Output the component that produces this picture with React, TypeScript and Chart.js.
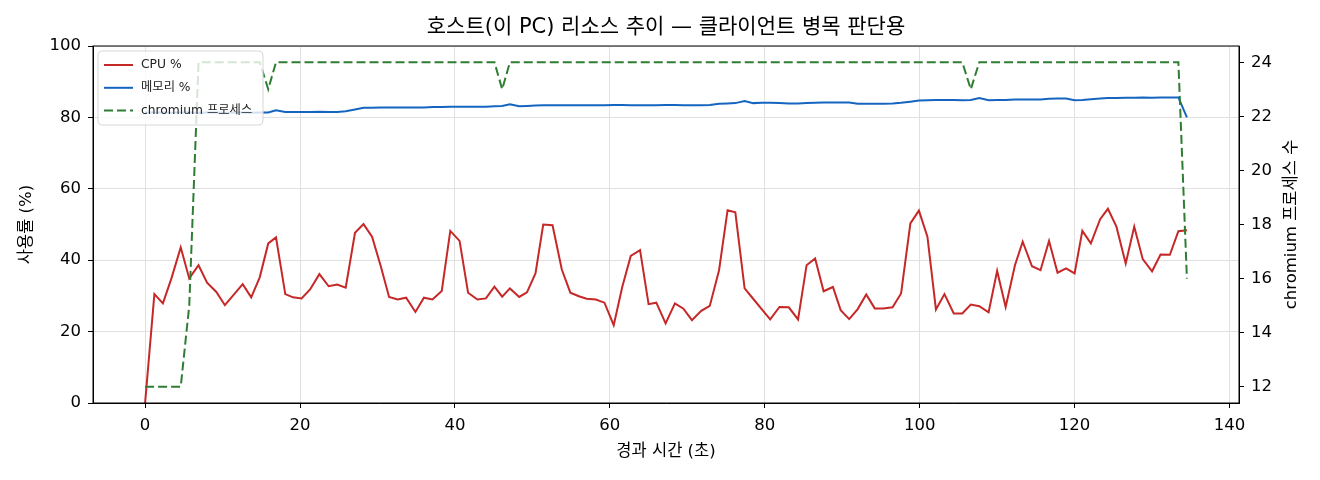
import { useEffect, useRef } from "react";
import { Chart, registerables } from "chart.js";

Chart.register(...registerables);

const FONT = '"DejaVu Sans", "Noto Sans CJK KR", sans-serif';

// sample times (s)
const TIME_S = [
  0.0, 1.2, 2.3, 3.4, 4.6, 5.7, 6.9, 8.0, 9.2, 10.3,
  11.4, 12.6, 13.7, 14.8, 15.9, 16.9, 18.1, 19.1, 20.2, 21.3,
  22.5, 23.7, 24.8, 25.9, 27.1, 28.2, 29.3, 30.4, 31.5, 32.6,
  33.7, 34.9, 36.0, 37.1, 38.3, 39.4, 40.6, 41.7, 42.9, 44.0,
  45.1, 46.1, 47.1, 48.3, 49.3, 50.4, 51.4, 52.6, 53.8, 54.9,
  56.0, 57.0, 58.2, 59.3, 60.5, 61.6, 62.7, 63.9, 65.0, 66.0,
  67.2, 68.4, 69.5, 70.6, 71.8, 72.9, 74.1, 75.2, 76.2, 77.4,
  78.5, 79.6, 80.7, 81.9, 83.1, 84.3, 85.4, 86.5, 87.6, 88.8,
  89.8, 90.9, 92.0, 93.1, 94.2, 95.3, 96.5, 97.6, 98.8, 99.9,
  101.0, 102.1, 103.2, 104.4, 105.5, 106.6, 107.7, 108.9, 110.0, 111.1,
  112.3, 113.3, 114.5, 115.6, 116.7, 117.8, 118.9, 120.0, 121.0, 122.1,
  123.3, 124.3, 125.4, 126.6, 127.7, 128.8, 130.0, 131.1, 132.3, 133.4,
  134.5,
];

const CPU_PCT = [
  0, 30.5, 27.9, 34.9, 43.6, 34.9, 38.6, 33.7, 31.1, 27.4,
  30.2, 33.3, 29.6, 35.2, 44.7, 46.4, 30.5, 29.6, 29.3, 31.8,
  36.1, 32.7, 33.2, 32.3, 47.7, 50.1, 46.6, 38.5, 29.7, 29.0,
  29.5, 25.5, 29.5, 29.0, 31.4, 48.2, 45.4, 30.9, 29.0, 29.3,
  32.6, 29.8, 32.1, 29.7, 31.0, 36.3, 50.0, 49.8, 37.4, 30.9,
  29.9, 29.2, 29.0, 28.1, 21.8, 32.5, 41.2, 42.8, 27.7, 28.1,
  22.3, 27.9, 26.4, 23.2, 25.8, 27.2, 37.2, 54.0, 53.4, 32.1,
  29.2, 26.3, 23.4, 26.9, 26.8, 23.4, 38.6, 40.5, 31.3, 32.5,
  26.0, 23.5, 26.3, 30.4, 26.5, 26.5, 26.8, 30.7, 50.3, 53.9,
  46.6, 26.2, 30.5, 25.1, 25.1, 27.6, 27.1, 25.4, 37.0, 26.9,
  38.6, 45.2, 38.3, 37.2, 45.4, 36.5, 37.7, 36.3, 48.2, 44.7,
  51.5, 54.4, 49.4, 39.1, 49.4, 40.3, 36.9, 41.6, 41.5, 48.1,
  48.4,
];

const MEM_PCT = [
  81.4, 81.4, 81.4, 81.3, 81.4, 81.4, 81.3, 81.4, 81.4, 81.3,
  81.4, 81.4, 81.3, 81.4, 81.4, 82.0, 81.5, 81.5, 81.5, 81.5,
  81.6, 81.5, 81.5, 81.7, 82.2, 82.7, 82.7, 82.8, 82.8, 82.8,
  82.8, 82.8, 82.8, 82.9, 82.9, 83.0, 83.0, 83.0, 83.0, 83.0,
  83.1, 83.2, 83.7, 83.1, 83.2, 83.3, 83.4, 83.4, 83.4, 83.4,
  83.4, 83.4, 83.4, 83.4, 83.5, 83.5, 83.4, 83.4, 83.4, 83.4,
  83.5, 83.5, 83.4, 83.4, 83.4, 83.5, 83.8, 83.9, 84.0, 84.6,
  84.0, 84.1, 84.1, 84.0, 83.9, 83.9, 84.0, 84.1, 84.2, 84.2,
  84.2, 84.2, 83.8, 83.8, 83.8, 83.8, 83.9, 84.1, 84.4, 84.7,
  84.8, 84.9, 84.9, 84.9, 84.8, 84.9, 85.4, 84.8, 84.9, 84.9,
  85.0, 85.0, 85.0, 85.0, 85.2, 85.3, 85.3, 84.8, 84.9, 85.1,
  85.3, 85.4, 85.4, 85.5, 85.5, 85.6, 85.5, 85.6, 85.6, 85.6,
  80.0,
];

const CHROMIUM_PROCS = [
  12, 12, 12, 12, 12, 15, 24, 24, 24, 24,
  24, 24, 24, 24, 23, 24, 24, 24, 24, 24,
  24, 24, 24, 24, 24, 24, 24, 24, 24, 24,
  24, 24, 24, 24, 24, 24, 24, 24, 24, 24,
  24, 23, 24, 24, 24, 24, 24, 24, 24, 24,
  24, 24, 24, 24, 24, 24, 24, 24, 24, 24,
  24, 24, 24, 24, 24, 24, 24, 24, 24, 24,
  24, 24, 24, 24, 24, 24, 24, 24, 24, 24,
  24, 24, 24, 24, 24, 24, 24, 24, 24, 24,
  24, 24, 24, 24, 24, 23, 24, 24, 24, 24,
  24, 24, 24, 24, 24, 24, 24, 24, 24, 24,
  24, 24, 24, 24, 24, 24, 24, 24, 24, 24,
  16,
];

const X_TICKS = [0, 20, 40, 60, 80, 100, 120, 140];
const PCT_TICKS = [0, 20, 40, 60, 80, 100];
const PROC_TICKS = [12, 14, 16, 18, 20, 22, 24];

const TITLE = "호스트(이 PC) 리소스 추이 — 클라이언트 병목 판단용";
const X_LABEL = "경과 시간 (초)";
const Y_LABEL = "사용률 (%)";
const Y2_LABEL = "chromium 프로세스 수";
const SERIES = ["CPU %", "메모리 %", "chromium 프로세스"];
const COLORS = ["#c62828", "#1565c0", "#2e7d32"];
const DASH = [9, 4];

const toPoints = (ys: number[]) => TIME_S.map((t, i) => ({ x: t, y: ys[i] }));

// title, axis titles, top/right frame and the in-plot legend
const decor = {
  id: "decor",
  afterDraw(chart: any) {
    const { ctx, chartArea: a } = chart;
    const midX = (a.left + a.right) / 2;
    const midY = (a.top + a.bottom) / 2;
    ctx.save();
    ctx.strokeStyle = "#000";
    ctx.lineWidth = 1;
    ctx.strokeRect(a.left, a.top, a.right - a.left, a.bottom - a.top);

    ctx.fillStyle = "#000";
    ctx.textAlign = "center";
    ctx.textBaseline = "middle";
    ctx.font = `21px ${FONT}`;
    ctx.fillText(TITLE, midX, 28);
    ctx.font = `16.5px ${FONT}`;
    ctx.fillText(X_LABEL, midX, 452);
    ctx.save();
    ctx.translate(27, midY);
    ctx.rotate(-Math.PI / 2);
    ctx.fillText(Y_LABEL, 0, 0);
    ctx.restore();
    ctx.save();
    ctx.translate(1292, midY);
    ctx.rotate(-Math.PI / 2);
    ctx.fillText(Y2_LABEL, 0, 0);
    ctx.restore();

    // legend box
    const bx = a.left + 5, by = a.top + 5, bw = 165, bh = 74;
    ctx.beginPath();
    ctx.roundRect(bx, by, bw, bh, 4);
    ctx.fillStyle = "rgba(255,255,255,0.8)";
    ctx.fill();
    ctx.strokeStyle = "#d6d6d6";
    ctx.stroke();
    ctx.font = `12.3px ${FONT}`;
    ctx.textAlign = "left";
    SERIES.forEach((name, i) => {
      const ry = by + 14 + i * 22.8;
      ctx.beginPath();
      ctx.setLineDash(i === 2 ? DASH : []);
      ctx.strokeStyle = COLORS[i];
      ctx.lineWidth = 2;
      ctx.moveTo(bx + 6, ry);
      ctx.lineTo(bx + 35, ry);
      ctx.stroke();
      ctx.fillStyle = "#222";
      ctx.fillText(name, bx + 43, ry);
    });
    ctx.restore();
  },
};

export default function App() {
  const canvasRef = useRef<HTMLCanvasElement>(null);

  useEffect(() => {
    if (!canvasRef.current) return;
    const tickFont = { family: FONT, size: 16.5 };
    const grid = { color: "#e0e0e0", tickColor: "#000", tickLength: 5 };
    const border = { color: "#000", width: 1 };

    const chart = new Chart(canvasRef.current, {
      type: "line",
      data: {
        datasets: [
          {
            label: SERIES[0], data: toPoints(CPU_PCT), yAxisID: "y", order: 2,
            borderColor: COLORS[0], borderWidth: 2, pointRadius: 0, tension: 0,
          },
          {
            label: SERIES[1], data: toPoints(MEM_PCT), yAxisID: "y", order: 1,
            borderColor: COLORS[1], borderWidth: 2, pointRadius: 0, tension: 0,
          },
          {
            label: SERIES[2], data: toPoints(CHROMIUM_PROCS), yAxisID: "y1", order: 0,
            borderColor: COLORS[2], borderWidth: 2, borderDash: DASH, pointRadius: 0, tension: 0,
          },
        ],
      },
      options: {
        animation: false,
        responsive: true,
        maintainAspectRatio: false,
        layout: { padding: { top: 46, left: 0, right: 0, bottom: 0 } },
        plugins: { legend: { display: false }, tooltip: { enabled: false }, title: { display: false } },
        scales: {
          x: {
            type: "linear", min: -6.725, max: 141.225,
            afterBuildTicks: (s: any) => { s.ticks = X_TICKS.map((v) => ({ value: v })); },
            afterFit: (s: any) => { s.height = 77; },
            ticks: { font: tickFont, color: "#000", padding: 8, maxRotation: 0 },
            grid, border,
          },
          y: {
            position: "left", min: 0, max: 100,
            afterBuildTicks: (s: any) => { s.ticks = PCT_TICKS.map((v) => ({ value: v })); },
            afterFit: (s: any) => { s.width = 93; },
            ticks: { font: tickFont, color: "#000", padding: 7 },
            grid, border,
          },
          y1: {
            position: "right", min: 11.4, max: 24.6,
            afterBuildTicks: (s: any) => { s.ticks = PROC_TICKS.map((v) => ({ value: v })); },
            afterFit: (s: any) => { s.width = 81; },
            ticks: { font: tickFont, color: "#000", padding: 7 },
            grid: { drawOnChartArea: false, tickColor: "#000", tickLength: 5 },
            border,
          },
        },
      },
      plugins: [decor],
    } as any);

    return () => chart.destroy();
  }, []);

  return (
    <div style={{ position: "absolute", left: 0, top: 0, width: 1320, height: 480, background: "#fff" }}>
      <canvas ref={canvasRef}></canvas>
    </div>
  );
}
